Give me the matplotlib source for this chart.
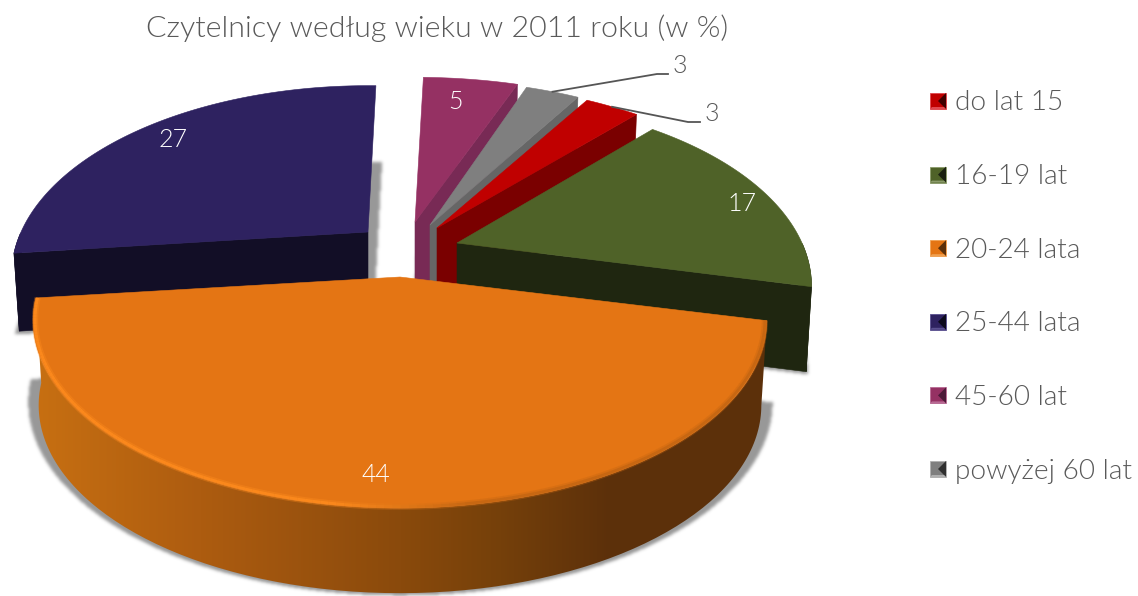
import matplotlib
matplotlib.use("Agg")
import matplotlib.pyplot as plt
import numpy as np
from matplotlib.collections import LineCollection
from matplotlib.colors import to_rgb
from matplotlib.path import Path
from matplotlib.patches import PathPatch, Polygon

W, H = 1138, 596

# data
title = "Czytelnicy według wieku w 2011 roku (w %)"
labels = ["do lat 15", "16-19 lat", "20-24 lata", "25-44 lata", "45-60 lat", "powyżej 60 lat"]
values = [3, 17, 44, 27, 5, 3]

# style
top_colors = ["#c00000", "#4f6228", "#e47514", "#2e2260", "#953163", "#7f7f7f"]
side_colors = ["#7a0000", "#1f2610", "#8a4a0c", "#120e26", "#782a55", "#666666"]
legend_light = ["#e0484f", "#8a9a6a", "#f0a050", "#5a5090", "#b86a94", "#b0b0b0"]
legend_dark = ["#400000", "#1a2010", "#5c300a", "#0c0a1c", "#4c1a38", "#303030"]

# layout of the exploded slices, in pixels of the picture
start_angle = 30.7
apex = [(437, 228), (457, 243), (400, 277), (368, 232), (415, 222), (430, 225)]
rx = [352, 345, 357, 347, 368, 347]
ry = [178, 178, 178, 180, 178, 178]
depth = [85, 85, 85, 78, 85, 85]
persp = 0.23
label_frac = [None, 0.93, 0.87, 0.85, 0.85, None]
label_shift = [None, (-3, 8), (-1, 5), (-3, -1), (-8, 5), None]
text_color = "#595959"
font = "Lato"
light = 300

plt.rcParams["font.family"] = [font, "DejaVu Sans"]


def surface_point(i, theta, frac=1.0):
    t = np.radians(theta)
    u, v = np.sin(t) * frac, -np.cos(t) * frac
    s = 1 / (1 - persp * v)
    return np.column_stack([apex[i][0] + rx[i] * u * s, apex[i][1] + ry[i] * v * s])


def drop(i, pts):
    # underside of the slice, sides lean in a little
    out = np.array(pts, dtype=float)
    out[:, 0] = apex[i][0] + (out[:, 0] - apex[i][0]) * 0.985
    out[:, 1] += depth[i]
    return out


def blur(img, sigma):
    r = int(3 * sigma)
    k = np.exp(-0.5 * (np.arange(-r, r + 1) / sigma) ** 2)
    k /= k.sum()
    img = np.apply_along_axis(lambda c: np.convolve(c, k, mode="same"), 0, img)
    return np.apply_along_axis(lambda c: np.convolve(c, k, mode="same"), 1, img)


def draw_shadow(ax, i, poly, z):
    poly = np.array(poly)
    c = poly.mean(axis=0)
    scaled = c + (poly - c) * 1.03
    xx, yy = np.meshgrid(np.arange(W) + 0.5, np.arange(H) + 0.5)
    grid = np.column_stack([xx.ravel(), yy.ravel()])
    mask = Path(scaled).contains_points(grid).reshape(H, W).astype(float)
    mask = blur(mask, 1.6)
    rgba = np.zeros((H, W, 4))
    rgba[..., :3] = 0.38
    rgba[..., 3] = mask * 0.65
    ax.imshow(rgba, extent=(0, W, H, 0), aspect="auto", zorder=z, interpolation="bilinear")


def draw_slice(ax, i, a0, a1, z):
    thetas = np.linspace(a0, a1, 160)
    arc = surface_point(i, thetas)
    top = np.vstack([apex[i], arc])
    bottom = drop(i, top)
    draw_shadow(ax, i, bottom, z)
    # only the part of the rim that faces the viewer
    near = np.cos(np.radians(thetas)) < 0
    rim = None
    if near.sum() > 1:
        rim = np.vstack([arc[near], drop(i, arc[near])[::-1]])
    side = side_colors[i]
    if i == 2:
        # orange front has a dark-to-light sweep across the rim
        xs = np.arange(W)
        stops_x = [30, 200, 400, 500, 610, 770]
        stops_c = ["#c87012", "#ad5c10", "#8a4a0c", "#75400a", "#5c300a", "#5c300a"]
        rgb = np.array([to_rgb(c) for c in stops_c])
        grad = np.column_stack([np.interp(xs, stops_x, rgb[:, k]) for k in range(3)])
        img = ax.imshow(grad[None, :, :], extent=(0, W, H, 0), aspect="auto", zorder=z + 0.1)
        clip = PathPatch(Path(rim), transform=ax.transData, fc="none", ec="none")
        ax.add_patch(clip)
        img.set_clip_path(clip)
    else:
        # cut face towards the viewer: the first edge for navy, the last for the rest
        k = 1 if i == 3 else -1
        face = np.vstack([top[0], top[k], bottom[k], bottom[0]])
        polys = [face] if rim is None else [face, rim]
        for poly in polys:
            ax.add_patch(Polygon(poly, closed=True, fc=side, ec=side, lw=0.4, zorder=z + 0.1))
    ax.add_patch(Polygon(top, closed=True, fc=top_colors[i], ec=top_colors[i], lw=0.4, zorder=z + 0.2))
    if i == 2:
        # bevel along the front edge: bright on the left, soft fade on the right
        edge = surface_point(i, thetas, 0.995)
        segs = np.stack([edge[:-1], edge[1:]], axis=1)
        mid = segs.mean(axis=1)[:, 0]
        bright = np.array(to_rgb("#ff8c1e"))
        base = np.array(to_rgb(top_colors[i]))
        dull = np.array(to_rgb("#9a5210"))
        f = np.clip((mid - 330) / 140, 0, 1)[:, None]
        cols = bright * (1 - f) + (base * 0.55 + dull * 0.45) * f
        ax.add_collection(LineCollection(segs, colors=cols, linewidths=4.5, alpha=0.35, zorder=z + 0.3))
        ax.add_collection(LineCollection(segs, colors=cols, linewidths=2.0, alpha=0.8, zorder=z + 0.31))


def draw_legend_key(ax, x, y, i, size=16):
    h = size / 2
    ax.add_patch(Polygon([(x - h, y - h), (x + h, y - h), (x + h, y + h), (x - h, y + h)],
                         fc=top_colors[i], ec=legend_light[i], lw=0.6, zorder=5))
    ax.add_patch(Polygon([(x + h, y - h), (x + h, y + h), (x, y)], fc=legend_dark[i], ec="none", zorder=5.1))
    ax.add_patch(Polygon([(x - h, y + h), (x + h, y + h), (x + h - 2, y + h - 2), (x - h + 2, y + h - 2)],
                         fc=legend_light[i], ec="none", zorder=5.2))


def main():
    fig = plt.figure(figsize=(W / 100, H / 100), dpi=100)
    ax = fig.add_axes([0, 0, 1, 1])

    total = sum(values)
    spans = [v / total * 360 for v in values]
    ends = start_angle + np.cumsum(spans)
    starts = ends - np.array(spans)
    mids = (starts + ends) / 2

    # back to front
    for z, i in enumerate([3, 4, 5, 0, 1, 2]):
        a0, a1 = starts[i], ends[i]
        draw_slice(ax, i, a0, a1, 1 + z)

    for i, v in enumerate(values):
        if label_frac[i] is not None:
            p = surface_point(i, mids[i], label_frac[i])[0]
            dx, dy = label_shift[i]
            ax.text(p[0] + dx, p[1] + dy, str(v), color="white", fontsize=18, fontweight=light,
                    ha="center", va="center", zorder=8)

    # leader lines for the two thin slices
    for i, bend, end in [(5, (657, 74), (668, 74)), (0, (688, 122), (700, 122))]:
        p = surface_point(i, mids[i])[0]
        ax.plot([p[0], bend[0], end[0]], [p[1], bend[1], end[1]], color="#555555", lw=1.3, zorder=8)
        ax.text(end[0] + 12, end[1] - 8, str(values[i]), color=text_color, fontsize=18,
                fontweight=light, ha="center", va="center", zorder=8)

    ax.text(437.5, 28, title, color=text_color, fontsize=21.9, fontweight=light, ha="center", va="center")

    for i, lab in enumerate(labels):
        y = 101 + i * 73.6
        draw_legend_key(ax, 938, y, i)
        ax.text(955, y + 2, lab, color=text_color, fontsize=20.2, fontweight=light, ha="left", va="center")

    ax.set_xlim(0, W)
    ax.set_ylim(H, 0)
    ax.axis("off")
    fig.savefig("out.png", dpi=100)
    plt.close(fig)


if __name__ == "__main__":
    main()
